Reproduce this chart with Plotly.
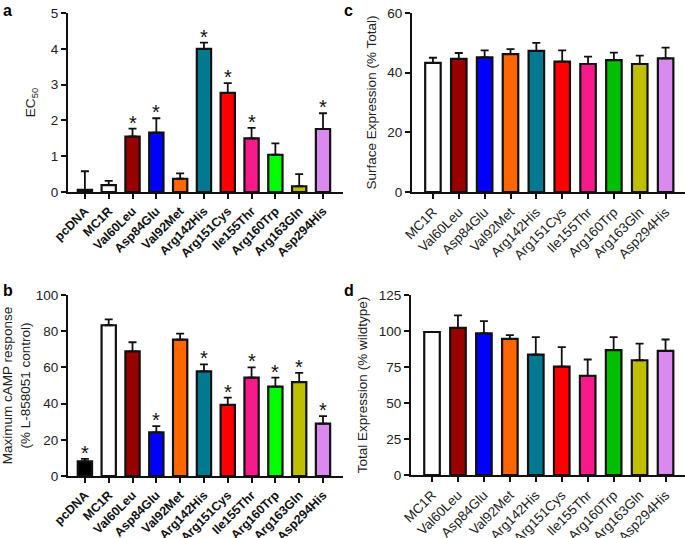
import plotly.graph_objects as go

# ---- data ----
cats_ab = ["pcDNA", "MC1R", "Val60Leu", "Asp84Glu", "Val92Met", "Arg142His",
           "Arg151Cys", "Ile155Thr", "Arg160Trp", "Arg163Gln", "Asp294His"]
cats_cd = cats_ab[1:]

ec50 = [0.06, 0.19, 1.55, 1.66, 0.37, 4.0, 2.77, 1.50, 1.04, 0.16, 1.76]
ec50_err = [0.52, 0.12, 0.22, 0.40, 0.15, 0.17, 0.27, 0.29, 0.32, 0.34, 0.44]
ec50_sig = [False, False, True, True, False, True, True, True, False, False, True]

maxresp = [8.1, 83.3, 68.9, 24.1, 75.4, 57.8, 39.3, 54.4, 49.4, 51.9, 28.9]
maxresp_err = [1.4, 3.2, 5.0, 3.5, 3.3, 3.9, 4.0, 5.6, 5.0, 5.1, 4.2]
maxresp_sig = [True, False, False, True, False, True, True, True, True, True, True]

surface = [43.3, 44.6, 45.1, 46.2, 47.3, 43.7, 42.9, 44.2, 42.9, 44.8]
surface_err = [1.7, 2.0, 2.4, 1.7, 2.7, 3.8, 2.5, 2.5, 2.8, 3.6]

total = [99.3, 102.2, 98.3, 94.6, 83.6, 75.3, 68.8, 86.7, 79.7, 86.2]
total_err = [0.0, 8.6, 8.6, 2.5, 12.1, 13.5, 11.4, 9.0, 11.6, 7.9]

colors_ab = ["#000000", "#ffffff", "#990000", "#0000ff", "#ff6600", "#007991",
             "#ff0000", "#f81a8a", "#00ff00", "#bfbf00", "#da8aee"]
colors_c = ["#ffffff", "#990000", "#0000ff", "#ff6600", "#007991",
            "#ff0000", "#f81a8a", "#00c000", "#bfbf00", "#da8aee"]

W, H = 685, 538
FONT = "Liberation Sans, Arial, sans-serif"

fig = go.Figure()


def px_x(p):
    return p / W


def px_y(p):
    return 1 - p / H


def add_bar(cats, vals, errs, cols, xa, ya):
    fig.add_trace(go.Bar(
        x=cats, y=vals, xaxis=xa, yaxis=ya, width=0.6,
        marker=dict(color=cols, line=dict(color="#111111", width=2.2)),
        error_y=dict(type="data", array=errs, arrayminus=[0] * len(errs),
                     symmetric=False, color="#111111", thickness=1.8, width=4),
        showlegend=False, hoverinfo="x+y"))


add_bar(cats_ab, ec50, ec50_err, colors_ab, "x", "y")
add_bar(cats_ab, maxresp, maxresp_err, colors_ab, "x2", "y2")
add_bar(cats_cd, surface, surface_err, colors_c, "x3", "y3")
add_bar(cats_cd, total, total_err, colors_c, "x4", "y4")

axis_common = dict(showline=True, linecolor="#111111", linewidth=2, ticks="outside",
                   ticklen=5, tickwidth=1.5, tickcolor="#111111", showgrid=False,
                   zeroline=False, automargin=False)

xa_bold = dict(tickangle=-45, tickfont=dict(family=FONT, size=12.5, color="#111111", weight="bold"),
               type="category", **axis_common)
xa_reg = dict(tickangle=-45, tickfont=dict(family=FONT, size=13.5, color="#222222"),
              type="category", **axis_common)
ytick = dict(family=FONT, size=13.5, color="#222222")
ytitle_font = dict(family=FONT, size=13.5, color="#222222")

fig.update_layout(
    width=W, height=H, margin=dict(l=0, r=0, t=0, b=0),
    paper_bgcolor="white", plot_bgcolor="white", bargap=0.4,
    font=dict(family=FONT, color="#222222"),
    xaxis=dict(domain=[px_x(68), px_x(343)], range=[-0.71, 10.84], anchor="y", **xa_bold),
    yaxis=dict(domain=[px_y(192), px_y(13)], range=[0, 5], dtick=1, anchor="x",
               tickfont=ytick, title=dict(text="EC<sub>50</sub>", font=ytitle_font, standoff=12),
               **axis_common),
    xaxis2=dict(domain=[px_x(68), px_x(343)], range=[-0.71, 10.84], anchor="y2", **xa_bold),
    yaxis2=dict(domain=[px_y(476), px_y(295)], range=[0, 100], dtick=20, anchor="x2",
                tickfont=ytick,
                title=dict(text="Maximum cAMP response<br>(% L-858051 control)",
                           font=ytitle_font, standoff=8),
                **axis_common),
    xaxis3=dict(domain=[px_x(412), px_x(685)], range=[-0.81, 9.75], anchor="y3", **xa_reg),
    yaxis3=dict(domain=[px_y(192), px_y(13)], range=[0, 60], dtick=20, anchor="x3",
                tickfont=ytick,
                title=dict(text="Surface Expression (% Total)", font=ytitle_font, standoff=8),
                **axis_common),
    xaxis4=dict(domain=[px_x(411), px_x(685)], range=[-0.81, 9.75], anchor="y4", **xa_reg),
    yaxis4=dict(domain=[px_y(475), px_y(295)], range=[0, 125], dtick=25, anchor="x4",
                tickfont=ytick,
                title=dict(text="Total Expression (% wildtype)", font=ytitle_font, standoff=8),
                **axis_common),
)

annotations = []


def add_stars(cats, vals, errs, sig, xr, yr):
    for c, v, e, s in zip(cats, vals, errs, sig):
        if s:
            annotations.append(dict(x=c, y=v + e, xref=xr, yref=yr, text="*",
                                    showarrow=False, yanchor="bottom", yshift=-7,
                                    font=dict(family=FONT, size=20, color="#111111")))


add_stars(cats_ab, ec50, ec50_err, ec50_sig, "x", "y")
add_stars(cats_ab, maxresp, maxresp_err, maxresp_sig, "x2", "y2")

for txt, x, y in [("a", 1, 0), ("b", 1, 280), ("c", 342, 0), ("d", 342, 280)]:
    annotations.append(dict(x=px_x(x), y=px_y(y), xref="paper", yref="paper", text="<b>%s</b>" % txt,
                            showarrow=False, xanchor="left", yanchor="top",
                            font=dict(family=FONT, size=16, color="#000000")))

fig.update_layout(annotations=annotations)

fig.write_html("out.html", config={"displayModeBar": False},
               post_script="document.body.style.margin='0';document.body.style.padding='0';")
